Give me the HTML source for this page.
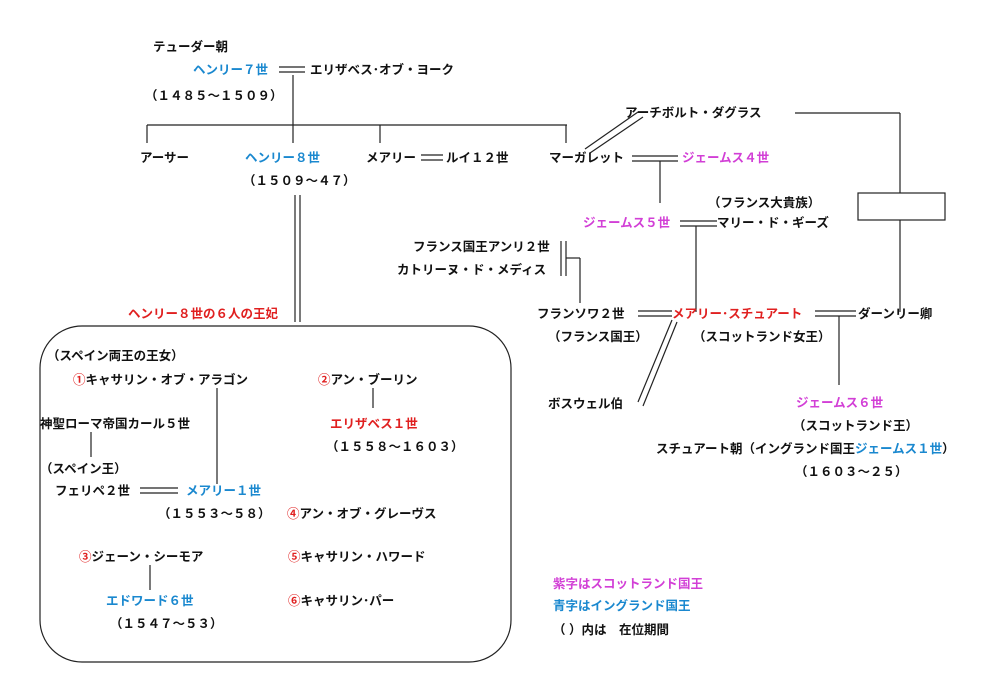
<!DOCTYPE html>
<html><head><meta charset="utf-8"><style>
body{margin:0;background:#fff;}
#c{position:relative;width:1000px;height:684px;overflow:hidden;background:#fff;font-family:"Liberation Sans","Noto Sans CJK JP",sans-serif;font-size:12.5px;font-weight:bold;color:#111;}
.t{position:absolute;white-space:pre;line-height:14px;}
.b{color:#1a88cf}.m{color:#d23fd6}.r{color:#e02020}
svg{position:absolute;left:0;top:0}
</style></head><body><div id="c">
<svg width="1000" height="684" stroke="#222" stroke-width="1.2" fill="none">
<line x1="279" y1="67" x2="305" y2="67"/><line x1="279" y1="72" x2="305" y2="72"/>
<line x1="293" y1="75" x2="293" y2="143"/>
<line x1="147" y1="125" x2="567" y2="125"/>
<line x1="147" y1="125" x2="147" y2="143"/><line x1="380" y1="125" x2="380" y2="143"/><line x1="566" y1="125" x2="566" y2="143"/>
<line x1="421" y1="155" x2="443" y2="155"/><line x1="421" y1="160" x2="443" y2="160"/>
<line x1="295" y1="195" x2="295" y2="322"/><line x1="300" y1="195" x2="300" y2="322"/>
<rect x="40" y="326" width="471" height="336" rx="42"/>
<line x1="585" y1="149" x2="638" y2="112"/><line x1="590" y1="153" x2="643" y2="117"/>
<line x1="795" y1="113" x2="900" y2="113"/><line x1="900" y1="113" x2="900" y2="193"/>
<rect x="858" y="193" width="87" height="27"/>
<line x1="900" y1="220" x2="900" y2="312"/>
<line x1="632" y1="156" x2="678" y2="156"/><line x1="632" y1="161" x2="678" y2="161"/>
<line x1="660" y1="161" x2="660" y2="203"/>
<line x1="680" y1="221" x2="717" y2="221"/><line x1="680" y1="226" x2="717" y2="226"/>
<line x1="696" y1="226" x2="696" y2="312"/>
<line x1="561" y1="241" x2="561" y2="276"/><line x1="566" y1="241" x2="566" y2="276"/>
<line x1="566" y1="258" x2="580" y2="258"/><line x1="580" y1="258" x2="580" y2="303"/>
<line x1="638" y1="311" x2="672" y2="311"/><line x1="638" y1="316" x2="672" y2="316"/>
<line x1="815" y1="311" x2="856" y2="311"/><line x1="815" y1="316" x2="856" y2="316"/>
<line x1="839" y1="316" x2="839" y2="385"/>
<line x1="672" y1="320" x2="638" y2="402"/><line x1="677" y1="322" x2="643" y2="406"/>
<line x1="373" y1="388" x2="373" y2="408"/>
<line x1="91" y1="432" x2="91" y2="457"/>
<line x1="217" y1="388" x2="217" y2="484"/>
<line x1="140" y1="488" x2="178" y2="488"/><line x1="140" y1="493" x2="178" y2="493"/>
<line x1="150" y1="565" x2="150" y2="590"/>
</svg>
<div class="t" style="left:153px;top:40px">テューダー朝</div>
<div class="t b" style="left:193px;top:63px">ヘンリー７世</div>
<div class="t" style="left:310px;top:63px">エリザベス･オブ・ヨーク</div>
<div class="t" style="left:145px;top:89px">（１４８５～１５０９）</div>
<div class="t" style="left:140px;top:151px">アーサー</div>
<div class="t b" style="left:245px;top:151px">ヘンリー８世</div>
<div class="t" style="left:366px;top:151px">メアリー</div>
<div class="t" style="left:446px;top:151px">ルイ１２世</div>
<div class="t" style="left:549px;top:151px">マーガレット</div>
<div class="t" style="left:243px;top:174px">（１５０９～４７）</div>
<div class="t r" style="left:128px;top:307px">ヘンリー８世の６人の王妃</div>
<div class="t" style="left:625px;top:106px">アーチボルト・ダグラス</div>
<div class="t m" style="left:682px;top:151px">ジェームス４世</div>
<div class="t" style="left:708px;top:196px">（フランス大貴族）</div>
<div class="t m" style="left:583px;top:216px">ジェームス５世</div>
<div class="t" style="left:717px;top:216px">マリー・ド・ギーズ</div>
<div class="t" style="left:413px;top:240px">フランス国王アンリ２世</div>
<div class="t" style="left:397px;top:263px">カトリーヌ・ド・メディス</div>
<div class="t" style="left:537px;top:307px">フランソワ２世</div>
<div class="t r" style="left:672px;top:307px">メアリー･スチュアート</div>
<div class="t" style="left:858px;top:307px">ダーンリー卿</div>
<div class="t" style="left:548px;top:330px">（フランス国王）</div>
<div class="t" style="left:693px;top:330px">（スコットランド女王）</div>
<div class="t" style="left:548px;top:397px">ボスウェル伯</div>
<div class="t m" style="left:796px;top:396px">ジェームス６世</div>
<div class="t" style="left:793px;top:419px">（スコットランド王）</div>
<div class="t" style="left:656px;top:442px">スチュアート朝（イングランド国王<span class="b">ジェームス１世</span>）</div>
<div class="t" style="left:795px;top:465px">（１６０３～２５）</div>
<div class="t m" style="left:553px;top:577px">紫字はスコットランド国王</div>
<div class="t b" style="left:553px;top:599px">青字はイングランド国王</div>
<div class="t" style="left:553px;top:623px">（ ）内は　在位期間</div>
<div class="t" style="left:47px;top:349px">（スペイン両王の王女）</div>
<div class="t" style="left:73px;top:373px"><span class="r">①</span>キャサリン・オブ・アラゴン</div>
<div class="t" style="left:318px;top:373px"><span class="r">②</span>アン・ブーリン</div>
<div class="t r" style="left:330px;top:417px">エリザベス１世</div>
<div class="t" style="left:326px;top:440px">（１５５８～１６０３）</div>
<div class="t" style="left:40px;top:417px">神聖ローマ帝国カール５世</div>
<div class="t" style="left:40px;top:462px">（スペイン王）</div>
<div class="t" style="left:55px;top:484px">フェリペ２世</div>
<div class="t b" style="left:186px;top:484px">メアリー１世</div>
<div class="t" style="left:158px;top:507px">（１５５３～５８）</div>
<div class="t" style="left:287px;top:507px"><span class="r">④</span>アン・オブ・グレーヴス</div>
<div class="t" style="left:79px;top:550px"><span class="r">③</span>ジェーン・シーモア</div>
<div class="t" style="left:288px;top:550px"><span class="r">⑤</span>キャサリン・ハワード</div>
<div class="t b" style="left:106px;top:594px">エドワード６世</div>
<div class="t" style="left:288px;top:594px"><span class="r">⑥</span>キャサリン･パー</div>
<div class="t" style="left:110px;top:617px">（１５４７～５３）</div>
</div></body></html>
